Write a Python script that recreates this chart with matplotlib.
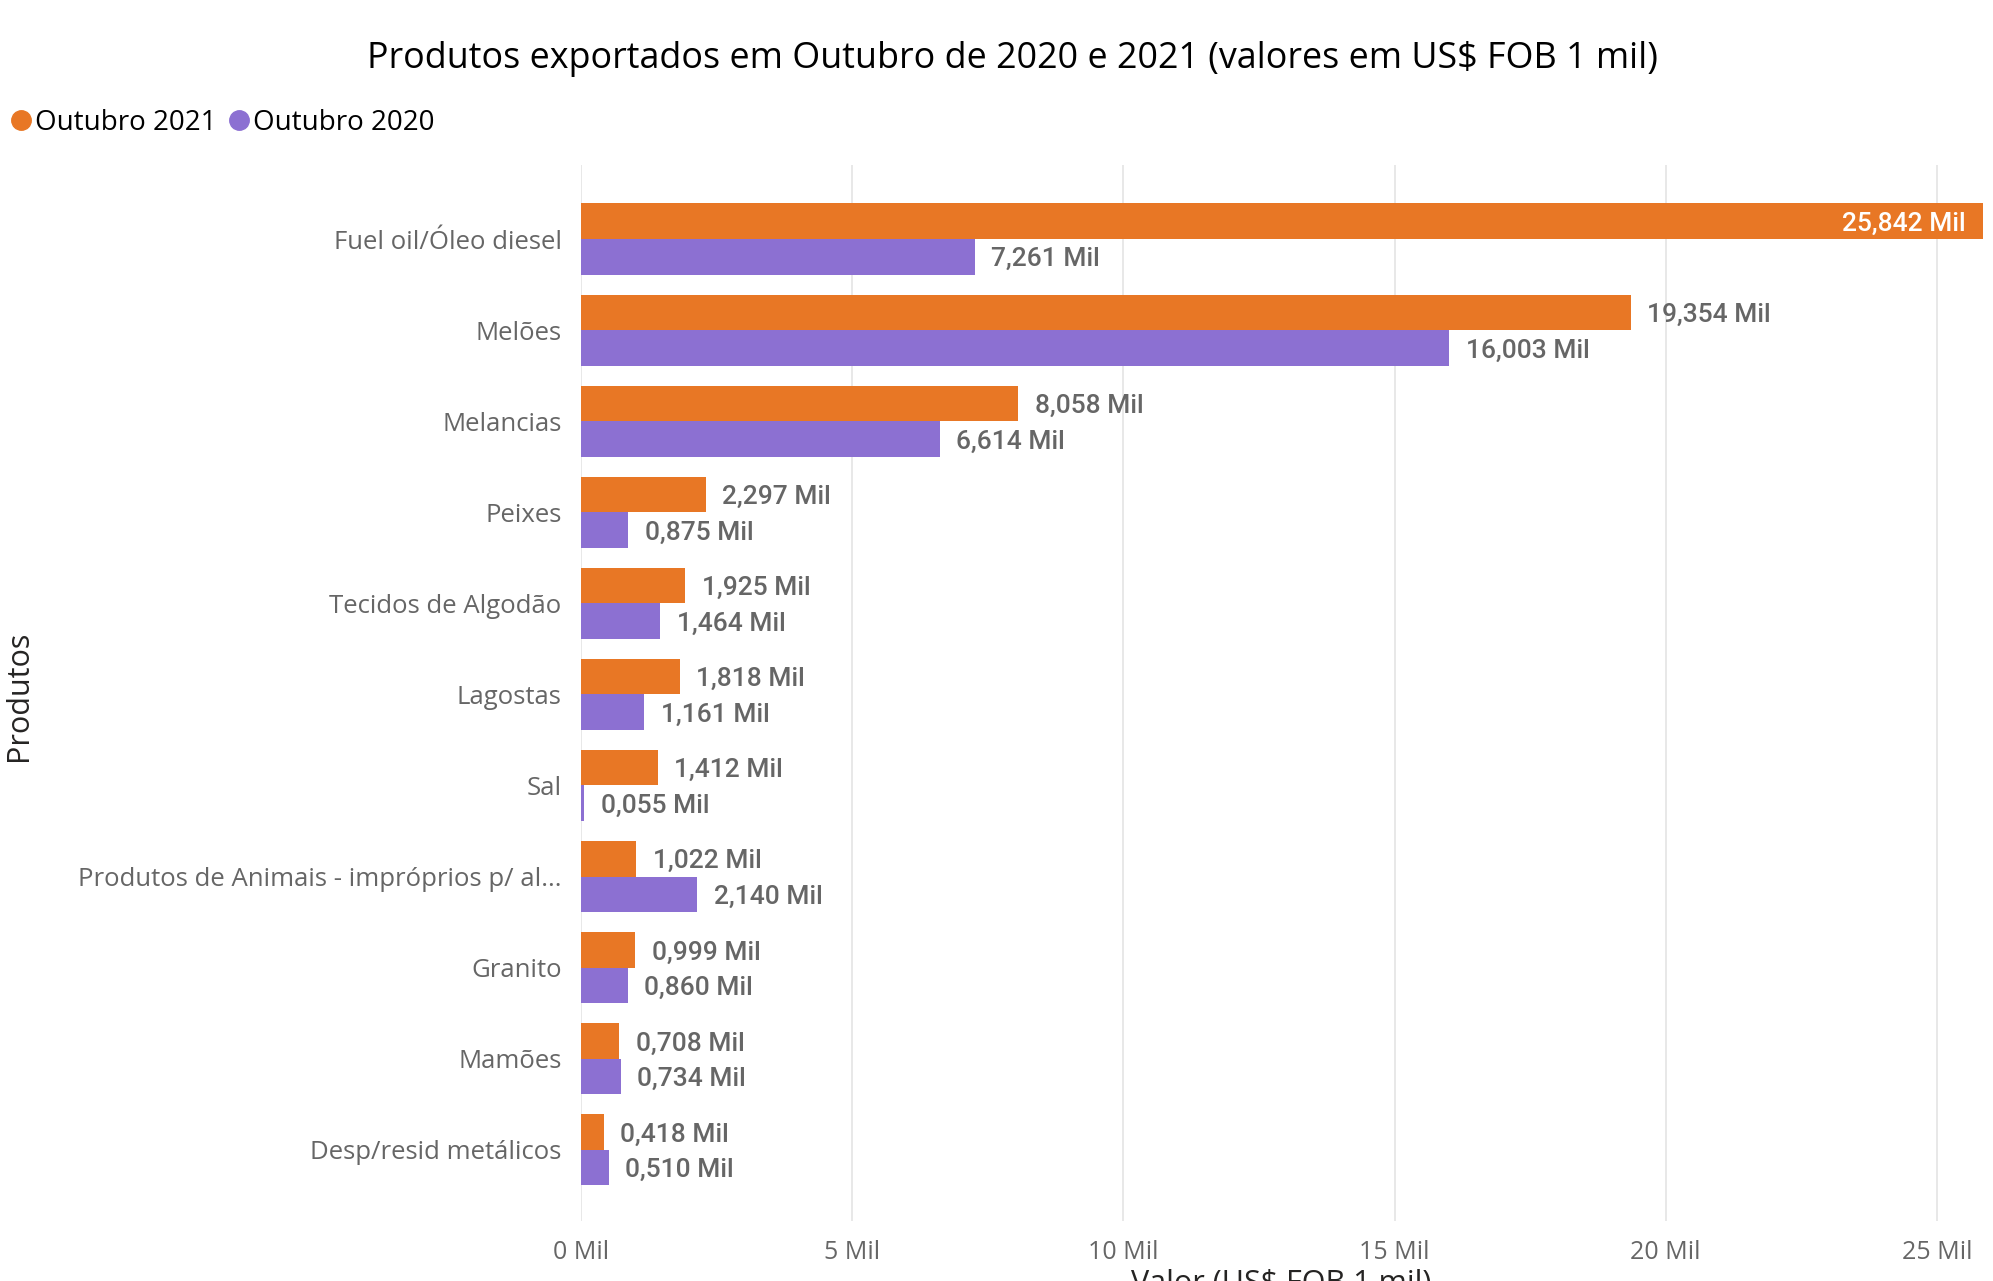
import numpy as np
import matplotlib.pyplot as plt
from matplotlib.lines import Line2D

### data ###

produtos = [
    "Fuel oil/Óleo diesel",
    "Melões",
    "Melancias",
    "Peixes",
    "Tecidos de Algodão",
    "Lagostas",
    "Sal",
    "Produtos de Animais - impróprios p/ al...",
    "Granito",
    "Mamões",
    "Desp/resid metálicos",
]
out_2021 = [25.842, 19.354, 8.058, 2.297, 1.925, 1.818, 1.412, 1.022, 0.999, 0.708, 0.418]
out_2020 = [7.261, 16.003, 6.614, 0.875, 1.464, 1.161, 0.055, 2.140, 0.860, 0.734, 0.510]
xticks = [0, 5, 10, 15, 20, 25]

### style ###

c_2021 = "#E87725"
c_2020 = "#8C70D2"
label_gray = "#666666"
font_ui = "Open Sans"
font_val = "Roboto"

fig = plt.figure(figsize=(19.93, 12.81), dpi=100)
ax = fig.add_axes([0.2915, 0.047, 0.7035, 0.824])

y = np.arange(len(produtos))
h = 0.39
b1 = ax.barh(y - h / 2, out_2021, height=h, color=c_2021, zorder=2)
b2 = ax.barh(y + h / 2, out_2020, height=h, color=c_2020, zorder=2)

def fmt(v):
    return f"{v:.3f}".replace(".", ",") + " Mil"

xmax = 25.85
for bars, vals in [(b1, out_2021), (b2, out_2020)]:
    for bar, v in zip(bars, vals):
        yc = bar.get_y() + bar.get_height() / 2
        if v > 0.9 * xmax:
            # label inside the bar when it doesn't fit
            ax.annotate(fmt(v), (v, yc), xytext=(-12, 0), textcoords="offset points",
                        ha="right", va="center_baseline", color="white", fontsize=19,
                        family=font_val, weight="medium")
        else:
            ax.annotate(fmt(v), (v, yc), xytext=(12, 0), textcoords="offset points",
                        ha="left", va="center_baseline", color=label_gray, fontsize=19,
                        family=font_val, weight="medium")

ax.set_xlim(0, xmax)
ax.set_ylim(len(produtos) - 1 + 0.78, -0.81)
ax.set_xticks(xticks)
ax.set_xticklabels([f"{t} Mil" for t in xticks], family=font_ui, fontsize=18, color=label_gray)
ax.set_yticks(y)
ax.set_yticklabels(produtos, family=font_ui, fontsize=18.5, color=label_gray)
ax.tick_params(axis="both", length=0)
ax.tick_params(axis="y", pad=14)
ax.tick_params(axis="x", pad=14)
ax.grid(axis="x", color="#E6E6E6", linewidth=1.3, zorder=0)
for s in ax.spines.values():
    s.set_visible(False)

# axis title sits at the very bottom edge, partly clipped as in the original
fig.text(0.643, 0.009, "Valor (US$ FOB 1 mil)", ha="center", va="top",
         family=font_ui, fontsize=22, color="#252423")
fig.text(0.0095, 0.457, "Produtos", rotation=90, ha="center", va="center",
         family=font_ui, fontsize=22, color="#252423")

fig.suptitle("Produtos exportados em Outubro de 2020 e 2021 (valores em US$ FOB 1 mil)",
             x=0.508, y=0.968, family=font_ui, fontsize=25.8, color="#000000")

handles = [
    Line2D([], [], marker="o", linestyle="", color=c_2021, markersize=14),
    Line2D([], [], marker="o", linestyle="", color=c_2020, markersize=14),
]
fig.legend(handles, ["Outubro 2021", "Outubro 2020"], loc="center left",
           bbox_to_anchor=(-0.002, 0.904), ncol=2, frameon=False,
           prop={"family": font_ui, "size": 20}, handletextpad=0.0,
           columnspacing=0.3, handlelength=1.0, borderaxespad=0)

fig.savefig("out.png", dpi=100)
